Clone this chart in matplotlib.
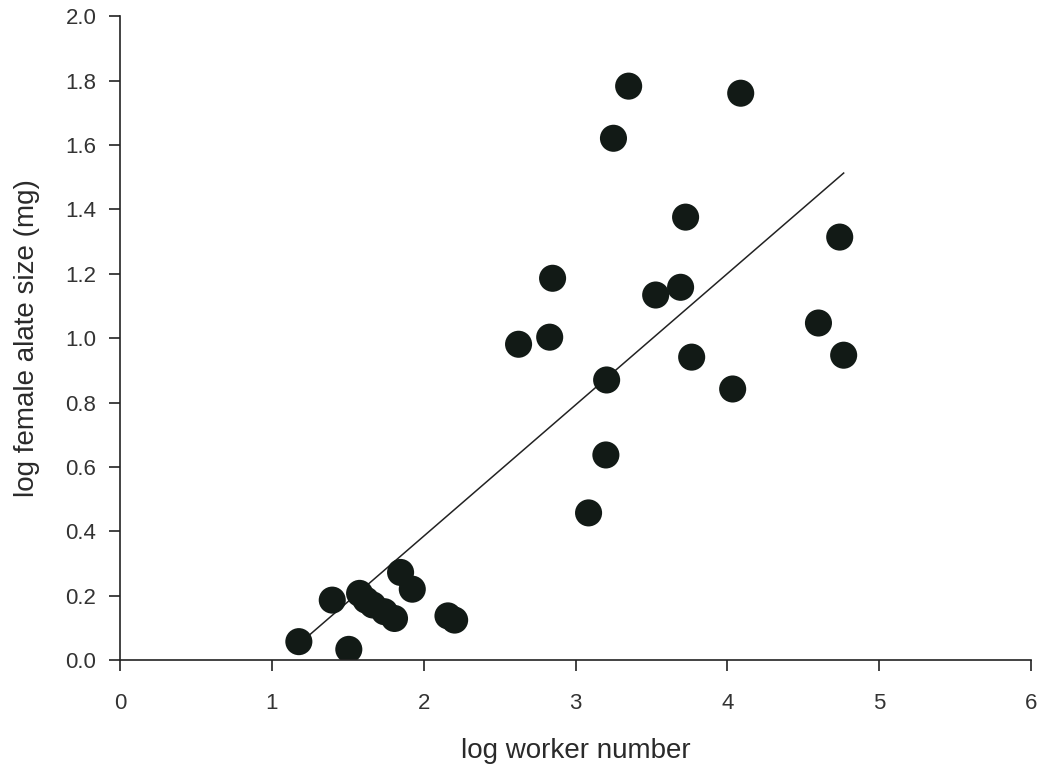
import numpy as np
import matplotlib
matplotlib.use("Agg")
import matplotlib.pyplot as plt

plt.rcParams['font.family'] = ['Liberation Sans', 'DejaVu Sans']

# log worker number / log female alate size (mg)
log_workers = [1.178, 1.507, 1.398, 1.578, 1.62, 1.665, 1.742, 1.808, 1.848, 1.925,
               2.16, 2.204, 2.625, 2.83, 2.849, 3.086, 3.2, 3.205, 3.25, 3.35,
               3.528, 3.692, 3.725, 3.765, 4.035, 4.088, 4.6, 4.74, 4.766]
log_alate = [0.057, 0.033, 0.186, 0.207, 0.186, 0.171, 0.15, 0.129, 0.272, 0.22,
             0.137, 0.124, 0.981, 1.003, 1.186, 0.457, 0.637, 0.87, 1.621, 1.783,
             1.134, 1.158, 1.376, 0.941, 0.842, 1.761, 1.047, 1.314, 0.947]

x_ticks = [0, 1, 2, 3, 4, 5, 6]
y_ticks = [0.0, 0.2, 0.4, 0.6, 0.8, 1.0, 1.2, 1.4, 1.6, 1.8, 2.0]

x = np.array(log_workers)
y = np.array(log_alate)

fig = plt.figure(figsize=(10.46, 7.76), dpi=100)
ax = fig.add_axes([0.1147, 0.1495, 0.871, 0.8295])

# regression line, drawn only over the data range
slope, intercept = np.polyfit(x, y, 1)
xl = np.array([x.min(), x.max()])
ax.plot(xl, slope * xl + intercept, color='#222222', lw=1.1, zorder=1)

ax.scatter(x, y, s=380, color='#121a16', edgecolors='none', zorder=2)

ax.set_xlim(0, 6)
ax.set_ylim(0, 2.0)
ax.set_xticks(x_ticks)
ax.set_yticks(y_ticks)
ax.set_yticklabels([f"{v:.1f}" for v in y_ticks])

for s in ['top', 'right']:
    ax.spines[s].set_visible(False)
for s in ['left', 'bottom']:
    ax.spines[s].set_linewidth(1.2)
    ax.spines[s].set_color('#222222')

ax.tick_params(direction='out', length=8, width=1.2, color='#222222',
               labelsize=16, labelcolor='#333333')
ax.tick_params(axis='x', pad=16)
ax.tick_params(axis='y', pad=9)

ax.set_xlabel('log worker number', fontsize=20, color='#2a2a2a', labelpad=17)
ax.set_ylabel('log female alate size (mg)', fontsize=20, color='#2a2a2a', labelpad=18)

fig.savefig('out.png', dpi=100)
